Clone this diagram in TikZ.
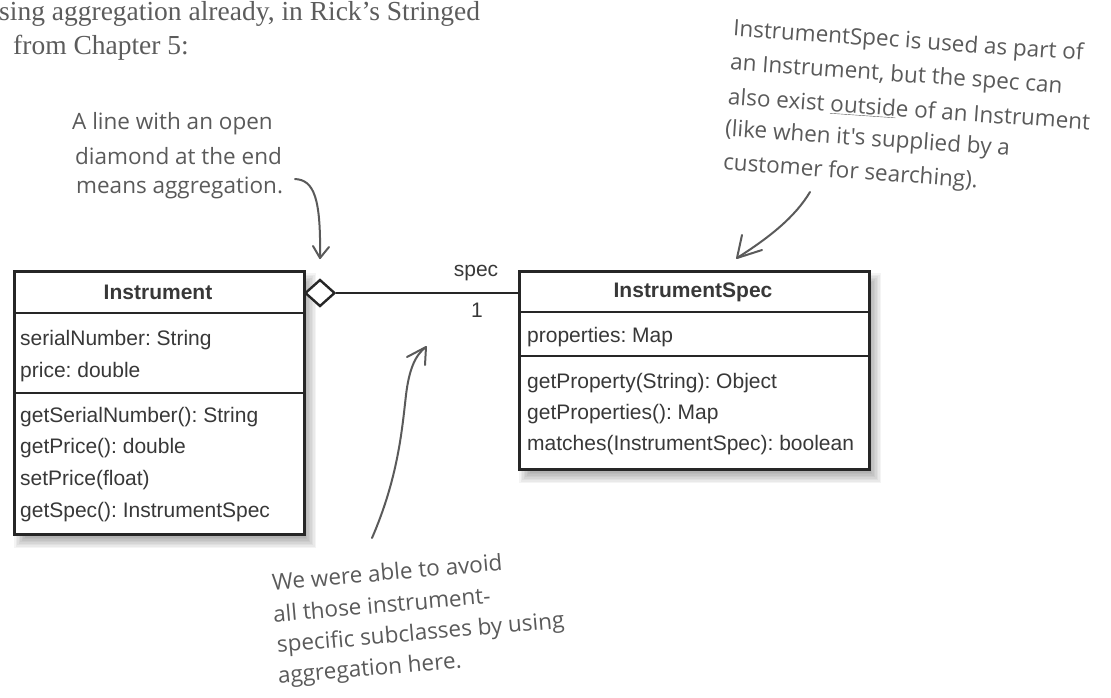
\documentclass[tikz,border=0pt]{standalone}
\usepackage{fontspec}
\setmainfont{Liberation Serif}
\setsansfont{Liberation Sans}
\newfontfamily\handfont{Open Sans}
\usetikzlibrary{shapes.geometric}
\definecolor{ink}{HTML}{262626}
\definecolor{txt}{HTML}{383838}
\definecolor{hand}{HTML}{5A5A5A}
\definecolor{serif}{HTML}{5C5C5C}
\frenchspacing
\begin{document}
\begin{tikzpicture}[x=1pt,y=-1pt,
  umltext/.style={font=\sffamily\fontsize{21}{25}\selectfont, text=txt, anchor=west, inner sep=0pt},
  umltitle/.style={font=\sffamily\bfseries\fontsize{21}{25}\selectfont, text=txt, inner sep=0pt},
  classbox/.style={draw=ink, line width=2.6pt, fill=white, anchor=north west, inner sep=0pt},
  sepline/.style={draw=ink, line width=2.2pt},
  note/.style={font=\handfont\fontsize{22.5}{27}\selectfont, text=hand, anchor=west, inner sep=0pt},
  handarrow/.style={draw=hand, line width=2pt, line cap=round, line join=round},
  booktext/.style={font=\fontsize{27.5}{32}\selectfont, text=serif, anchor=base west, inner sep=0pt},
]
\useasboundingbox (0,0) rectangle (1111,697);

% top text
\node[booktext] (t1) at (-1,20) {sing aggregation already, in Rick's Stringed};
\node[booktext] (t2) at (13,54) {from Chapter 5:};

% shadows
\foreach \k in {-6,-4.5,...,6} {
  \fill[black, opacity=0.045] (13+7+\k,270+9+\k) rectangle (303+7-\k,533+9-\k);
  \fill[black, opacity=0.045] (518+7+\k,270+9+\k) rectangle (868+7-\k,468+9-\k);
}

% Instrument class
\node[classbox, minimum width=290pt, minimum height=263pt] (inst) at (13,270) {};
\draw[sepline] (13,313) -- (303,313);
\draw[sepline] (13,393) -- (303,393);
\node[umltitle] (instT) at (158,292) {Instrument};
\node[umltext] (i1) at (20,340) {serialNumber: String};
\node[umltext] (i2) at (20,372) {price: double};
\node[umltext] (i3) at (20,417) {getSerialNumber(): String};
\node[umltext] (i4) at (20,448) {getPrice(): double};
\node[umltext] (i5) at (20,480) {setPrice(float)};
\node[umltext] (i6) at (20,512) {getSpec(): InstrumentSpec};

% InstrumentSpec class
\node[classbox, minimum width=350pt, minimum height=198pt] (spec) at (518,270) {};
\draw[sepline] (518,312) -- (868,312);
\draw[sepline] (518,356) -- (868,356);
\node[umltitle] (specT) at (693,292) {InstrumentSpec};
\node[umltext] (s1) at (527,337) {properties: Map};
\node[umltext] (s2) at (527,383) {getProperty(String): Object};
\node[umltext] (s3) at (527,414) {getProperties(): Map};
\node[umltext] (s4) at (527,445) {matches(InstrumentSpec): boolean};

% aggregation
\node[diamond, draw=ink, fill=white, line width=2.4pt, minimum width=30pt, minimum height=27pt, inner sep=0pt] (agg) at (320,293) {};
\coordinate (specL) at (518,293);
\draw[draw=ink, line width=2.6pt] (agg.east) -- (specL);
\node[font=\sffamily\fontsize{21}{25}\selectfont, text=txt, inner sep=0pt] (lblspec) at (476,273) {spec};
\node[font=\sffamily\fontsize{21}{25}\selectfont, text=txt, inner sep=0pt] (lblone) at (477,310) {1};

% left note
\node[note] (n1a) at (72,124) {A line with an open};
\node[note] (n1b) at (75,156) {diamond at the end};
\node[note] (n1c) at (76,188) {means aggregation.};
\coordinate (a1s) at (295,179);
\coordinate (a1t) at (320,258);
\draw[handarrow] (a1s) .. controls (314,180) and (321,198) .. (a1t);
\draw[handarrow] (313,246) -- (a1t) -- (329,247);

% right note
\node[note, rotate=-4] (n2a) at (733,30) {InstrumentSpec is used as part of};
\node[note, rotate=-4] (n2b) at (730,64) {an Instrument, but the spec can};
\node[note, rotate=-4] (n2c) at (728,97) {also exist \underline{outsid}e of an Instrument};
\node[note, rotate=-4] (n2d) at (725,130) {(like when it's supplied by a};
\node[note, rotate=-4] (n2e) at (723,164) {customer for searching).};
\coordinate (a2s) at (810,192);
\coordinate (a2t) at (737,258);
\draw[handarrow] (a2s) .. controls (795,217) and (770,237) .. (a2t);
\draw[handarrow] (742,235) -- (a2t) -- (762,250);

% bottom note
\node[note, rotate=5] (n3a) at (272,582) {We were able to avoid};
\node[note, rotate=5] (n3b) at (273,614) {all those instrument-};
\node[note, rotate=5] (n3c) at (277,647) {specific subclasses by using};
\node[note, rotate=5] (n3d) at (278,678) {aggregation here.};
\coordinate (a3s) at (372,538);
\coordinate (a3t) at (426,347);
\draw[handarrow] (a3s) .. controls (398,478) and (402,430) .. (406,395) .. controls (409,370) and (415,355) .. (a3t);
\draw[handarrow] (407,357) -- (a3t) -- (425,365);
\end{tikzpicture}
\end{document}
